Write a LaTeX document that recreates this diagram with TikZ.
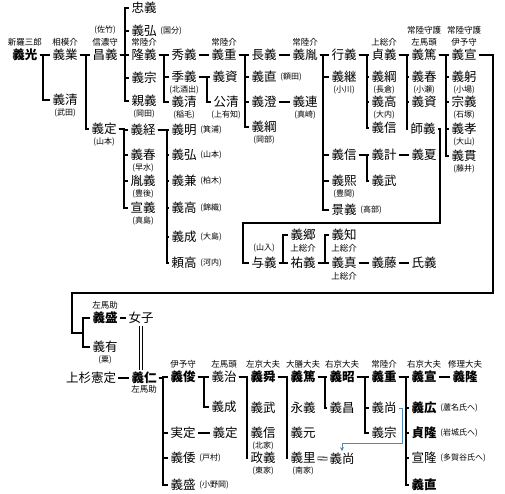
\documentclass[tikz,border=0pt]{standalone}
\usepackage{fontspec}
\setmainfont{Noto Sans CJK JP}
\usetikzlibrary{positioning,arrows.meta}
\definecolor{adoptblue}{HTML}{4A8CC0}
\tikzset{
  person/.style={inner sep=2pt, font=\fontsize{12.5}{13}\selectfont},
  heir/.style={person, font=\fontsize{12.5}{13}\selectfont\bfseries},
  office/.style={inner sep=0pt, font=\fontsize{8.5}{9}\selectfont},
  remark/.style={inner sep=0pt, font=\fontsize{8}{8.5}\selectfont},
  tree/.style={line width=2pt},
  twin/.style={double, double distance=2pt, line width=0.8pt},
  adopt/.style={draw=adoptblue, line width=0.8pt, -{Stealth[length=4pt,width=4pt]}}
}
\newcommand\branch[3]{\foreach \kid in {#3}{\draw[tree] (#1.east) -- (#1.east -| #2,0) |- (\kid.west);}}
\begin{document}
\begin{tikzpicture}[x=1pt,y=-1pt]
    \useasboundingbox (0,0) rectangle (505,494);
    \foreach \n/\x/\y/\t/\s in {
      yoshimitsu/25/55/義光/heir, yoshinari/65/55/義業/person, yoshikiyoT/65/100/義清/person,
      masayoshi/105/55/昌義/person, yoshisada/104/129/義定/person,
      tadayoshi/144/8/忠義/person, yoshihiroK/144/31/義弘/person, takayoshi/144/55/隆義/person,
      yoshimuneA/144/78/義宗/person, chikayoshi/144/101/親義/person,
      hideyoshi/184/55/秀義/person, sueyoshi/184/77/季義/person, yoshikiyoI/184/102/義清/person,
      yoshishigeA/224/55/義重/person, yoshisukeA/225/77/義資/person, kimikiyo/226/102/公清/person,
      nagayoshi/264/55/長義/person, yoshinaoN/264/77/義直/person, yoshizumi/264/102/義澄/person,
      yoshitsunaO/264/127/義綱/person, yoshitane/305/55/義胤/person, yoshitsura/305/102/義連/person,
      yukiyoshi/344/55/行義/person, yoshitsugu/344/77/義継/person, yoshinobuM/344/155/義信/person,
      yoshihiroT/344/181/義熙/person, kageyoshi/344/210/景義/person,
      sadayoshi/384/55/貞義/person, yoshitsunaN/384/77/義綱/person, yoshitakaO/384/102/義高/person,
      yoshinobuS/384/128/義信/person, yoshikazu/384/155/義計/person, yoshitake/384/181/義武/person,
      yoshiatsuA/424/55/義篤/person, yoshiharuK/424/77/義春/person, yoshisukeB/424/102/義資/person,
      moroyoshi/423/129/師義/person, yoshinatsu/424/155/義夏/person,
      yoshinobuT/464/55/義宣/person, yoshimi/464/77/義躬/person, muneyoshi/464/102/宗義/person,
      yoshitakaY/464/129/義孝/person, yoshinuki/464/156/義貫/person,
      yoshitsune/143/130/義経/person, yoshiharuH/143/155/義春/person, taneyoshi/143/181/胤義/person,
      nobuyoshi/143/208/宣義/person,
      yoshiaki/184/130/義明/person, yoshihiroY/184/155/義弘/person, yoshikane/184/181/義兼/person,
      yoshitakaN/184/208/義高/person, yoshinariO/184/237/義成/person, yoritaka/184/263/頼高/person,
      yoyoshi/264/263/与義/person, yoshisato/303/235/義郷/person, sukeyoshi/303/263/祐義/person,
      yoshitomo/344/235/義知/person, yoshizane/344/263/義真/person, yoshifuji/384/263/義藤/person,
      ujiyoshi/424/263/氏義/person,
      yoshimoriA/105/318/義盛/heir, yoshiari/105/347/義有/person, nyoshi/141/318/女子/person,
      norisada/91/378/上杉憲定/person, yoshihito/144/378/義仁/heir,
      yoshitoshi/183/377/義俊/heir, sanesada/183/433/実定/person, yoshiwa/183/458/義倭/person,
      yoshimoriB/183/485/義盛/person, yoshisadaB/225/433/義定/person,
      yoshiharuJ/224/377/義治/person, yoshinariB/224/407/義成/person,
      yoshikiyoS/263/377/義舜/heir, yoshitakeB/263/408/義武/person, yoshinobuK/263/433/義信/person,
      masayoshiT/263/458/政義/person,
      yoshiatsuB/303/377/義篤/heir, nagayoshiE/303/408/永義/person, yoshimoto/303/433/義元/person,
      yoshisatoN/303/458/義里/person,
      yoshiakiS/342/377/義昭/heir, yoshimasa/342/408/義昌/person, yoshihisaB/342/459/義尚/person,
      yoshishigeB/384/377/義重/heir, yoshihisaA/384/408/義尚/person, yoshimuneB/384/433/義宗/person,
      yoshinobuB/424/377/義宣/heir, yoshihiroA/424/408/義広/heir, sadataka/424/433/貞隆/heir,
      nobutaka/424/458/宣隆/person, yoshinaoB/424/485/義直/heir, yoshitakaB/465/377/義隆/heir}{
      \node[\s] (\n) at (\x,\y) {\t};
    }
    \foreach \n/\t in {yoshimitsu/新羅三郎, yoshinari/相模介, masayoshi/信濃守, takayoshi/常陸介,
      yoshishigeA/常陸介, yoshitane/常陸介, sadayoshi/上総介, yoshiatsuA/左馬頭, yoshinobuT/伊予守,
      yoshimoriA/左馬助, yoshitoshi/伊予守, yoshiharuJ/左馬頭, yoshikiyoS/左京大夫, yoshiatsuB/大膳大夫,
      yoshiakiS/右京大夫, yoshishigeB/常陸介, yoshinobuB/右京大夫, yoshitakaB/修理大夫}{
      \node[office] (\n-o) at ([yshift=13pt]\n.center) {\t};
    }
    \node[remark] (masayoshi-c) at ([yshift=25pt]masayoshi.center) {(佐竹)};
    \node[office] (yoshiatsuA-c) at ([yshift=25pt]yoshiatsuA.center) {常陸守護};
    \node[office] (yoshinobuT-c) at ([yshift=25pt]yoshinobuT.center) {常陸守護};
    \node[remark] (yoyoshi-o) at ([yshift=15pt]yoyoshi.center) {(山入)};
    \node[office] (yoshihito-o) at ([yshift=-11pt]yoshihito.center) {左馬助};
    \foreach \n in {yoshisato,yoshitomo,yoshizane}{
      \node[office] (\n-o) at ([yshift=-13pt]\n.center) {上総介};
    }
    \foreach \n/\t in {yoshikiyoT/(武田), yoshisada/(山本), chikayoshi/(岡田), sueyoshi/(北酒出),
      yoshikiyoI/(稲毛), kimikiyo/(上有知), yoshitsunaO/(岡部), yoshitsura/(真崎), yoshitsugu/(小川),
      yoshihiroT/(豊間), yoshitsunaN/(長倉), yoshitakaO/(大内), yoshiharuK/(小瀬), yoshimi/(小場),
      muneyoshi/(石塚), yoshitakaY/(大山), yoshinuki/(藤井), yoshiharuH/(早水), taneyoshi/(豊後),
      nobuyoshi/(真島), yoshiari/(粟), yoshinobuK/(北家), masayoshiT/(東家), yoshisatoN/(南家)}{
      \node[remark] (\n-r) at ([yshift=-13pt]\n.center) {\t};
    }
    \foreach \n/\t in {yoshihiroK/(国分), yoshinaoN/(額田), kageyoshi/(高部), yoshiaki/(箕浦),
      yoshihiroY/(山本), yoshikane/(柏木), yoshitakaN/(錦織), yoshinariO/(大島), yoritaka/(河内),
      yoshiwa/(戸村), yoshimoriB/(小野岡), yoshihiroA/(蘆名氏へ), sadataka/(岩城氏へ),
      nobutaka/(多賀谷氏へ)}{
      \node[remark, right=1.5pt of \n] (\n-s) {\t};
    }
    \branch{yoshimitsu}{43}{yoshinari,yoshikiyoT}
    \branch{yoshinari}{86}{masayoshi,yoshisada}
    \branch{masayoshi}{125}{tadayoshi,yoshihiroK,takayoshi,yoshimuneA,chikayoshi}
    \branch{takayoshi}{164}{hideyoshi,sueyoshi,yoshikiyoI}
    \branch{sueyoshi}{207}{yoshisukeA,kimikiyo}
    \branch{yoshishigeA}{245}{nagayoshi,yoshinaoN,yoshizumi,yoshitsunaO}
    \branch{yoshitane}{323}{yukiyoshi,yoshitsugu,yoshinobuM,yoshihiroT,kageyoshi}
    \branch{yukiyoshi}{367}{sadayoshi,yoshitsunaN,yoshitakaO,yoshinobuS}
    \branch{sadayoshi}{407}{yoshiatsuA,yoshiharuK,yoshisukeB,moroyoshi}
    \branch{yoshiatsuA}{446}{yoshinobuT,yoshimi,muneyoshi,yoshitakaY,yoshinuki}
    \branch{yoshinobuM}{367}{yoshikazu,yoshitake}
    \branch{yoshisada}{124}{yoshitsune,yoshiharuH,taneyoshi,nobuyoshi}
    \branch{yoshitsune}{167}{yoshiaki,yoshihiroY,yoshikane,yoshitakaN,yoshinariO,yoritaka}
    \branch{yoyoshi}{283}{yoshisato,sukeyoshi}
    \branch{sukeyoshi}{325}{yoshitomo,yoshizane}
    \branch{yoshihito}{163}{yoshitoshi,sanesada,yoshiwa,yoshimoriB}
    \branch{yoshitoshi}{204}{yoshiharuJ,yoshinariB}
    \branch{yoshiharuJ}{247}{yoshikiyoS,yoshitakeB,yoshinobuK,masayoshiT}
    \branch{yoshikiyoS}{287}{yoshiatsuB,nagayoshiE,yoshimoto,yoshisatoN}
    \branch{yoshiatsuB}{325}{yoshiakiS,yoshimasa}
    \branch{yoshiakiS}{365}{yoshishigeB,yoshihisaA,yoshimuneB}
    \branch{yoshishigeB}{406}{yoshinobuB,yoshihiroA,sadataka,nobutaka,yoshinaoB}
    \foreach \a/\b in {hideyoshi/yoshishigeA, nagayoshi/yoshitane, yoshizumi/yoshitsura,
      yoshikazu/yoshinatsu, yoshizane/yoshifuji, yoshifuji/ujiyoshi, yoshimoriA/nyoshi,
      norisada/yoshihito, sanesada/yoshisadaB, yoshinobuB/yoshitakaB}{
      \draw[tree] (\a) -- (\b);
    }
    \coordinate (moroturn) at (440,223);
    \coordinate (yamairi) at (243,223);
    \draw[tree] (moroyoshi.east) -| (moroturn) -- (yamairi) |- (yoyoshi.west);
    \coordinate (frameR) at (493,293);
    \coordinate (frameL) at (72,333);
    \coordinate (frameJ) at (83,333);
    \draw[tree] (yoshinobuT.east) -| (frameR) -| (frameL) -- (frameJ);
    \foreach \kid in {yoshimoriA,yoshiari}{
      \draw[tree] (frameJ) |- (\kid.west);
    }
    \draw[twin] (nyoshi.south) -- (nyoshi.south |- yoshihito.north);
    \draw[twin] (yoshisatoN) -- (yoshihisaB);
    \coordinate (adoptturn) at (402,443);
    \draw[adopt] (yoshihisaA.east) -| (adoptturn) -| (yoshihisaB.north);
\end{tikzpicture}
\end{document}
